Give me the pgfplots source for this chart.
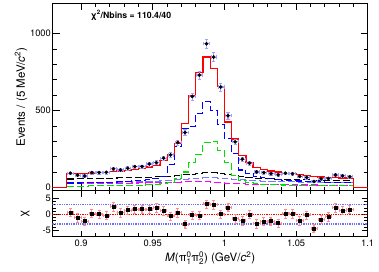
\documentclass[border=0pt]{standalone}
\usepackage{fontspec}
\setmainfont{TeX Gyre Heros}
\usepackage{pgfplots}
\pgfplotsset{compat=1.18}
\definecolor{rred}{RGB}{255,0,0}
\definecolor{rblue}{RGB}{0,0,255}
\definecolor{rgreen}{RGB}{0,225,0}
\definecolor{rmag}{RGB}{255,0,255}
\definecolor{rslate}{RGB}{120,120,255}
\definecolor{errblue}{RGB}{160,160,255}
\definecolor{errred}{RGB}{255,140,140}
\definecolor{dotblue}{RGB}{110,110,255}
\newcommand{\sx}[1]{\mbox{\fontsize{8}{9}\selectfont #1}}
\begin{document}
\begin{tikzpicture}[x=1pt,y=1pt]
\path[use as bounding box] (-52.5,-81.3) rectangle (326.5,190.7);
\pgfplotsset{
  every axis/.append style={
    scale only axis, width=315.2pt,
    xmin=0.88, xmax=1.1,
    xtick={0.9,0.95,1,1.05,1.1}, minor x tick num=4,
    major tick length=7pt, minor tick length=4pt,
    axis line style={line width=0.8pt},
    tick style={line width=0.7pt, black},
    /pgf/number format/assume math mode=true,
    /pgf/number format/1000 sep={},
    tick label style={font=\fontsize{9.3}{11}\selectfont},
    label style={font=\fontsize{11.5}{13}\selectfont},
    yticklabel style={inner sep=1.5pt},
  },
  hist/.style={const plot mark left, no marks, line width=1.1pt, dash pattern=on 7pt off 3pt},
}
\begin{axis}[at={(0,0)}, anchor=south west, height=187.7pt,
  ymin=-22, ymax=1200, ytick={0,500,1000}, minor y tick num=4,
  xticklabels={},
  ylabel={Events / (5 MeV/\textit{c}\textsuperscript{2})},
  y label style={at={(axis description cs:-0.1,0.5)}, anchor=center},
]
% background (black)
\addplot[hist, black] coordinates {(0.89,54)(0.895,55)(0.9,56)(0.905,57)(0.91,58)(0.915,59)(0.92,60)(0.925,61)(0.93,62)(0.935,63)(0.94,64)(0.945,66)(0.95,68)(0.955,70)(0.96,73)(0.965,77)(0.97,81)(0.975,86)(0.98,91)(0.985,95)(0.99,95)(0.995,92)(1.0,86)(1.005,78)(1.01,70)(1.015,64)(1.02,60)(1.025,57)(1.03,55)(1.035,53)(1.04,51)(1.045,50)(1.05,49)(1.055,48)(1.06,47)(1.065,46)(1.07,45)(1.075,44)(1.08,44)(1.085,43)(1.09,43)};
% slate
\addplot[hist, rslate] coordinates {(0.89,30)(0.895,30)(0.9,31)(0.905,31)(0.91,32)(0.915,32)(0.92,33)(0.925,34)(0.93,35)(0.935,36)(0.94,37)(0.945,38)(0.95,40)(0.955,42)(0.96,45)(0.965,48)(0.97,52)(0.975,56)(0.98,60)(0.985,62)(0.99,62)(0.995,60)(1.0,56)(1.005,52)(1.01,48)(1.015,45)(1.02,42)(1.025,40)(1.03,38)(1.035,37)(1.04,36)(1.045,35)(1.05,34)(1.055,33)(1.06,32)(1.065,31)(1.07,30)(1.075,30)(1.08,29)(1.085,29)(1.09,29)};
% magenta
\addplot[hist, rmag] coordinates {(0.89,22)(0.895,22)(0.9,23)(0.905,23)(0.91,24)(0.915,24)(0.92,25)(0.925,26)(0.93,27)(0.935,28)(0.94,29)(0.945,30)(0.95,31)(0.955,32)(0.96,33)(0.965,34)(0.97,35)(0.975,36)(0.98,36)(0.985,35)(0.99,33)(0.995,30)(1.0,27)(1.005,24)(1.01,22)(1.015,20)(1.02,19)(1.025,18)(1.03,17)(1.035,17)(1.04,16)(1.045,16)(1.05,15)(1.055,15)(1.06,15)(1.065,14)(1.07,14)(1.075,14)(1.08,13)(1.085,13)(1.09,13)};
% green
\addplot[hist, rgreen] coordinates {(0.89,8)(0.895,8)(0.9,8)(0.905,9)(0.91,9)(0.915,10)(0.92,10)(0.925,11)(0.93,12)(0.935,13)(0.94,14)(0.945,16)(0.95,18)(0.955,22)(0.96,30)(0.965,55)(0.97,100)(0.975,160)(0.98,215)(0.985,290)(0.99,296)(0.995,238)(1.0,160)(1.005,78)(1.01,45)(1.015,32)(1.02,25)(1.025,21)(1.03,18)(1.035,16)(1.04,15)(1.045,14)(1.05,13)(1.055,12)(1.06,12)(1.065,11)(1.07,11)(1.075,10)(1.08,10)(1.085,10)(1.09,10)};
% signal (blue)
\addplot[hist, rblue] coordinates {(0.89,28)(0.895,28)(0.9,29)(0.905,30)(0.91,31)(0.915,32)(0.92,34)(0.925,36)(0.93,39)(0.935,42)(0.94,46)(0.945,52)(0.95,60)(0.955,72)(0.96,146)(0.965,265)(0.97,385)(0.975,396)(0.98,483)(0.985,561)(0.99,500)(0.995,410)(1.0,320)(1.005,222)(1.01,113)(1.015,90)(1.02,72)(1.025,62)(1.03,55)(1.035,50)(1.04,46)(1.045,43)(1.05,41)(1.055,39)(1.06,37)(1.065,35)(1.07,34)(1.075,33)(1.08,32)(1.085,31)(1.09,31)};
% total fit (red)
\addplot[const plot mark left, no marks, rred, line width=1.2pt] coordinates {(0.88,0)(0.89,88)(0.895,89)(0.9,91)(0.905,93)(0.91,95)(0.915,98)(0.92,102)(0.925,106)(0.93,111)(0.935,117)(0.94,124)(0.945,132)(0.95,142)(0.955,172)(0.96,213)(0.965,286)(0.97,413)(0.975,600)(0.98,748)(0.985,848)(0.99,772)(0.995,654)(1.0,425)(1.005,315)(1.01,208)(1.015,162)(1.02,130)(1.025,115)(1.03,106)(1.035,100)(1.04,92)(1.045,88)(1.05,84)(1.055,76)(1.06,71)(1.065,67)(1.07,64)(1.075,62)(1.08,61)(1.085,60)(1.09,0)(1.1,0)};
% data
\addplot[only marks, mark=*, mark size=1.6pt, black,
  error bars/.cd, x dir=both, x fixed=0.002, y dir=both, y explicit,
  error bar style={color=errblue, line width=1.1pt}]
coordinates {
(0.8925,92) +- (0,9.6)
(0.8975,79) +- (0,8.9)
(0.9025,74) +- (0,8.6)
(0.9075,96) +- (0,9.8)
(0.9125,96) +- (0,9.8)
(0.9175,98) +- (0,9.9)
(0.9225,120) +- (0,11.0)
(0.9275,113) +- (0,10.6)
(0.9325,124) +- (0,11.1)
(0.9375,135) +- (0,11.6)
(0.9425,135) +- (0,11.6)
(0.9475,152) +- (0,12.3)
(0.9525,161) +- (0,12.7)
(0.9575,190) +- (0,13.8)
(0.9625,211) +- (0,14.5)
(0.9675,292) +- (0,17.1)
(0.9725,357) +- (0,18.9)
(0.9775,591) +- (0,24.3)
(0.9825,731) +- (0,27.0)
(0.9875,935) +- (0,30.6)
(0.9925,848) +- (0,29.1)
(0.9975,653) +- (0,25.6)
(1.0025,466) +- (0,21.6)
(1.0075,296) +- (0,17.2)
(1.0125,183) +- (0,13.5)
(1.0175,157) +- (0,12.5)
(1.0225,100) +- (0,10.0)
(1.0275,96) +- (0,9.8)
(1.0325,88) +- (0,9.4)
(1.0375,81) +- (0,9.0)
(1.0425,92) +- (0,9.6)
(1.0475,88) +- (0,9.4)
(1.0525,72) +- (0,8.5)
(1.0575,64) +- (0,8.0)
(1.0625,38) +- (0,6.2)
(1.0675,55) +- (0,7.4)
(1.0725,58) +- (0,7.6)
(1.0775,80) +- (0,8.9)
(1.0825,75) +- (0,8.7)
(1.0875,68) +- (0,8.2)
};
\node[font=\bfseries\fontsize{8.7}{10}\selectfont] at (rel axis cs:0.249,0.935) {χ\textsuperscript{2}/Nbins = 110.4/40};
\end{axis}
\begin{axis}[at={(0,0)}, anchor=north west, height=46pt,
  ymin=-6.9, ymax=7.3, ytick={-5,0,5}, minor y tick num=4,
  major tick length=6pt, minor tick length=3.5pt,
  ylabel={χ},
  y label style={at={(axis description cs:-0.087,0.5)}, anchor=center},
  xlabel={\textit{M}($\mbox{π}^{\sx{0}}_{\sx{1}}\mbox{π}^{\sx{0}}_{\sx{2}}$) (GeV/\textit{c}\textsuperscript{2})},
  x label style={at={(axis description cs:0.5,-0.47)}, anchor=center},
]
\addplot[dotblue, densely dotted, line width=1.3pt] coordinates {(0.88,3)(1.1,3)};
\addplot[dotblue, densely dotted, line width=1.3pt] coordinates {(0.88,-3)(1.1,-3)};
\addplot[rred, densely dotted, line width=1.3pt] coordinates {(0.88,0)(1.1,0)};
\addplot[only marks, mark=square*, mark size=1.5pt, black,
  error bars/.cd, x dir=both, x fixed=0.0022, y dir=both, y fixed=1.3,
  error bar style={color=errred, line width=1.1pt}]
coordinates {
(0.8925,0.6)(0.8975,-1.0)(0.9025,-2.1)(0.9075,0.3)(0.9125,0.1)(0.9175,-0.3)(0.9225,2.4)(0.9275,0.5)(0.9325,1.3)(0.9375,1.6)
(0.9425,1.6)(0.9475,1.6)(0.9525,2.0)(0.9575,1.1)(0.9625,-0.5)(0.9675,0.5)(0.9725,-3.0)(0.9775,-0.2)(0.9825,-0.3)(0.9875,3.2)
(0.9925,3.0)(0.9975,0.1)(1.0025,2.2)(1.0075,-1.3)(1.0125,-2.0)(1.0175,0.0)(1.0225,-2.9)(1.0275,-2.2)(1.0325,-2.1)(1.0375,-2.7)
(1.0425,0.2)(1.0475,0.2)(1.0525,-1.9)(1.0575,-0.2)(1.0625,-4.3)(1.0675,-1.5)(1.0725,-0.7)(1.0775,2.0)(1.0825,1.2)(1.0875,1.5)
};
\end{axis}
\end{tikzpicture}
\end{document}
